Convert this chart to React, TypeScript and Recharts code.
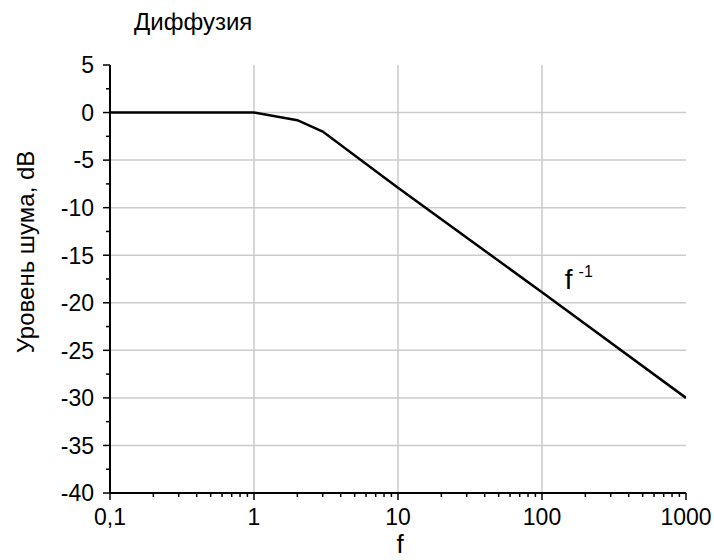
import { LineChart, Line, XAxis, YAxis, CartesianGrid, ReferenceDot } from 'recharts';

const FONT = '"Liberation Sans", Arial, sans-serif';

// frequency (log axis) and noise level, dB
const freq = [0.1, 1, 2, 3, 10, 100, 1000];
const noiseDb = [0, 0, -0.8, -2, -7.9, -18.9, -30];

const majorFreqTicks = [0.1, 1, 10, 100, 1000];
const minorFreqTicks = [
  0.2, 0.3, 0.4, 0.5, 0.6, 0.7, 0.8, 0.9,
  2, 3, 4, 5, 6, 7, 8, 9,
  20, 30, 40, 50, 60, 70, 80, 90,
  200, 300, 400, 500, 600, 700, 800, 900,
];
const levelTicks = [
  5, 2.5, 0, -2.5, -5, -7.5, -10, -12.5, -15, -17.5, -20,
  -22.5, -25, -27.5, -30, -32.5, -35, -37.5, -40,
];
const gridFreq = [1, 10, 100];
const gridLevel = [0, -5, -10, -15, -20, -25, -30, -35];

const chartData = freq.map((f, i) => ({ f, db: noiseDb[i] }));

function formatFreq(v: number): string {
  return String(v).replace('.', ',');
}

function XTick({ x, y, payload }: any) {
  const major = majorFreqTicks.includes(payload.value);
  return (
    <g>
      <line x1={x} x2={x} y1={y} y2={y + (major ? 7 : 4)} stroke="#000" strokeWidth={1.5} />
      {major && (
        <text x={x} y={y + 32} textAnchor="middle" fontSize={23} fontFamily={FONT} fill="#000">
          {formatFreq(payload.value)}
        </text>
      )}
    </g>
  );
}

function YTick({ x, y, payload }: any) {
  const major = payload.value % 5 === 0;
  return (
    <g>
      <line x1={x - (major ? 7 : 4)} x2={x} y1={y} y2={y} stroke="#000" strokeWidth={1.5} />
      {major && (
        <text x={x - 16} y={y} dy="0.36em" textAnchor="end" fontSize={23} fontFamily={FONT} fill="#000">
          {payload.value}
        </text>
      )}
    </g>
  );
}

export default function App() {
  return (
    <div style={{ position: 'relative', width: 714, height: 560 }}>
      <style>{'body{margin:0}'}</style>
      <div
        style={{
          position: 'absolute',
          left: 134,
          top: 10,
          fontFamily: FONT,
          fontSize: 24,
          lineHeight: '24px',
          color: '#000',
        }}
      >
        Диффузия
      </div>
      <LineChart width={714} height={560} data={chartData} margin={{ top: 65, right: 28, bottom: 0, left: 0 }}>
        <CartesianGrid
          stroke="#cbcbcb"
          strokeWidth={1.5}
          horizontalValues={gridLevel}
          verticalValues={gridFreq}
        />
        <XAxis
          dataKey="f"
          type="number"
          scale="log"
          domain={[0.1, 1000]}
          allowDataOverflow
          ticks={[...majorFreqTicks, ...minorFreqTicks]}
          interval={0}
          height={67}
          tickSize={0}
          tickMargin={0}
          tickLine={false}
          axisLine={{ stroke: '#000', strokeWidth: 2 }}
          tick={<XTick />}
          label={{
            content: () => (
              <text x={400} y={553} textAnchor="middle" fontSize={26} fontFamily={FONT} fill="#000">
                f
              </text>
            ),
          }}
        />
        <YAxis
          type="number"
          domain={[-40, 5]}
          ticks={levelTicks}
          interval={0}
          width={110}
          tickSize={0}
          tickMargin={0}
          tickLine={false}
          axisLine={{ stroke: '#000', strokeWidth: 2 }}
          tick={<YTick />}
          label={{
            content: () => (
              <text
                x={25}
                y={252}
                transform="rotate(-90 25 252)"
                textAnchor="middle"
                dominantBaseline="central"
                fontSize={24}
                fontFamily={FONT}
                fill="#000"
              >
                Уровень шума, dB
              </text>
            ),
          }}
        />
        <Line
          type="linear"
          dataKey="db"
          stroke="#000"
          strokeWidth={2.5}
          dot={false}
          activeDot={false}
          isAnimationActive={false}
        />
        <ReferenceDot
          x={144}
          y={-18.55}
          r={0}
          fill="none"
          stroke="none"
          label={{
            content: (props: any) => {
              const vb = props.viewBox || {};
              const cx = vb.x + (vb.width || 0) / 2;
              const cy = vb.y + (vb.height || 0) / 2;
              return (
                <text x={cx} y={cy} fontSize={28} fontFamily={FONT} fill="#000">
                  f
                  <tspan dx={6} dy={-12} fontSize={16}>
                    -1
                  </tspan>
                </text>
              );
            },
          }}
        />
      </LineChart>
    </div>
  );
}
